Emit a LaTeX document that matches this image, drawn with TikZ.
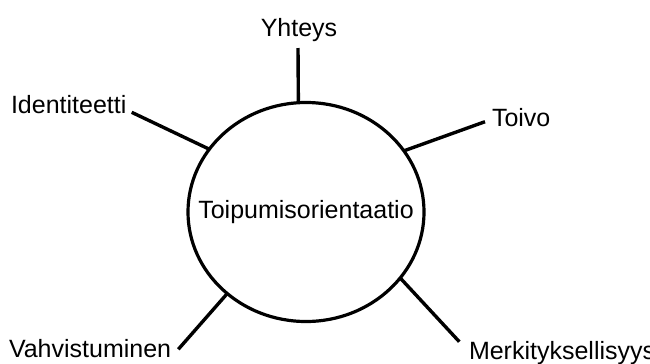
\documentclass[tikz,border=0pt]{standalone}
\usepackage{fontspec}
\setmainfont{Liberation Sans}
\usetikzlibrary{shapes.geometric}
\begin{document}
\begin{tikzpicture}[x=1bp,y=-1bp,
  lbl/.style={inner sep=0pt, outer sep=0pt, font=\fontsize{25bp}{29bp}\selectfont},
  hub/.style={draw, line width=3.2bp, ellipse, inner sep=0pt, outer sep=0pt,
    minimum width=236bp, minimum height=219bp, font=\fontsize{25bp}{29bp}\selectfont},
  spoke/.style={line width=3.4bp}]
\useasboundingbox (0,0) rectangle (650,363);
\fill[white] (0,0) rectangle (650,363);
\node[hub] (c) at (306,212) {\makebox[0pt]{Toipumisorientaatio}};
\node[lbl, anchor=base] (yh) at (299,36) {Yhteys};
\node[lbl, anchor=base west] (id) at (11,113.3) {Identiteetti};
\node[lbl, anchor=base west] (to) at (492,126.5) {Toivo};
\node[lbl, anchor=base west] (va) at (9,357.5) {Vahvistuminen};
\node[lbl, anchor=base west] (me) at (469,359) {Merkityksellisyys};
\coordinate (yhe) at (298,48);
\coordinate (ide) at (131.7,112.3);
\coordinate (toe) at (485,121.7);
\coordinate (vae) at (178.3,349.3);
\coordinate (mee) at (459.3,341.7);
\draw[spoke] (yhe) -- (c.94.2);
\draw[spoke] (ide) -- (c.147);
\draw[spoke] (toe) -- (c.32.6);
\draw[spoke] (vae) -- (c.226.9);
\draw[spoke] (mee) -- (c.325.3);
\end{tikzpicture}
\end{document}
